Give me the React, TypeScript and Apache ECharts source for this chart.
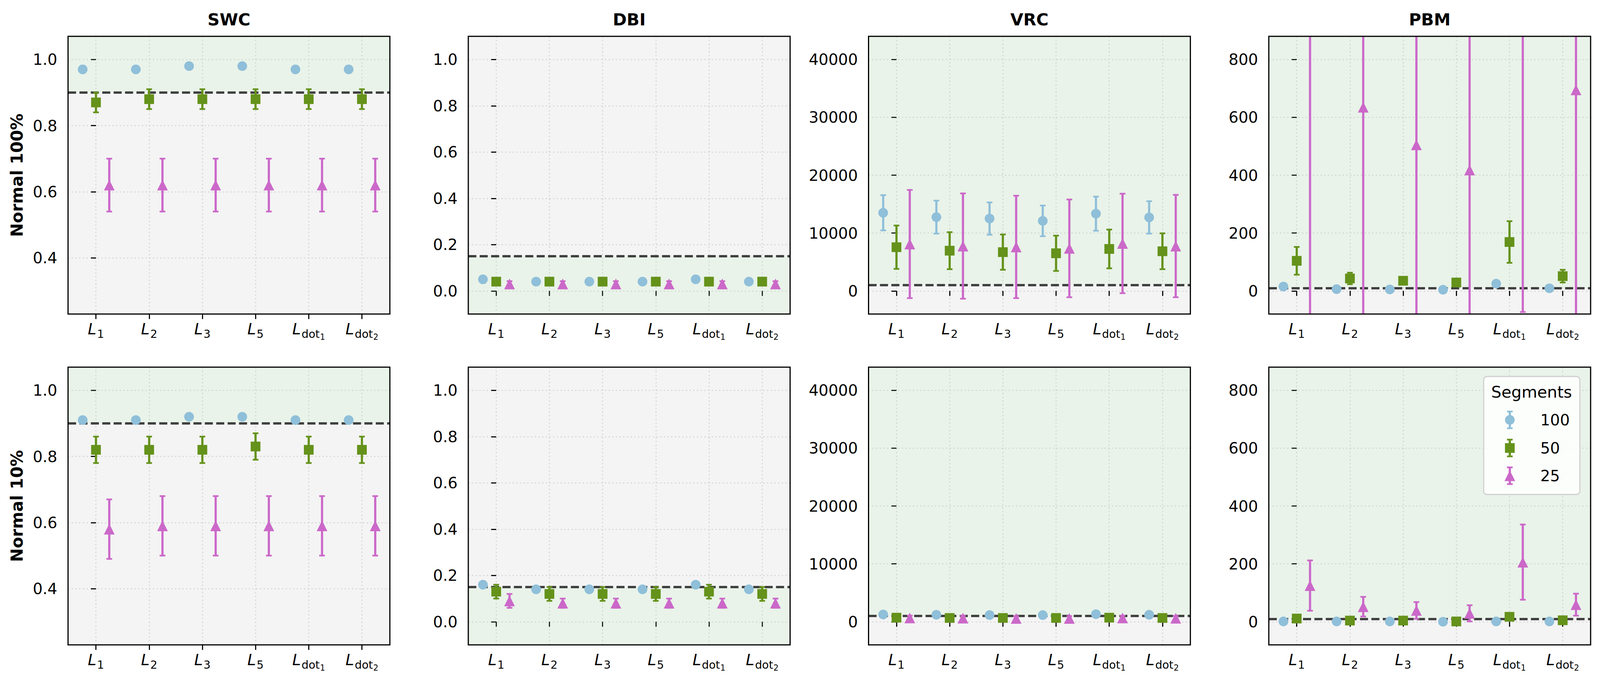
import React, { useEffect, useRef } from "react";
import * as echarts from "echarts";

const FONT = "DejaVu Sans";

// ---------- data ----------
const categories = ["L1", "L2", "L3", "L5", "Ldot1", "Ldot2"];
const metrics = ["SWC", "DBI", "VRC", "PBM"];
const rowLabels = ["Normal 100%", "Normal 10%"];
const segments = ["100", "50", "25"];

const thresholds = [0.9, 0.15, 1000, 10];
const goodAbove = [true, false, true, true];
const yMins = [0.23, -0.1, -4000, -80];
const yMaxs = [1.07, 1.1, 44000, 880];
const swcTicks = [0.4, 0.6, 0.8, 1.0];
const dbiTicks = [0.0, 0.2, 0.4, 0.6, 0.8, 1.0];
const vrcTicks = [0, 10000, 20000, 30000, 40000];
const pbmTicks = [0, 200, 400, 600, 800];
const tickDecimals = [1, 1, 0, 0];

// Normal 100%  (rows: segments 100, 50, 25)
const swcFullMean = [
  [0.97, 0.97, 0.98, 0.98, 0.97, 0.97],
  [0.87, 0.88, 0.88, 0.88, 0.88, 0.88],
  [0.62, 0.62, 0.62, 0.62, 0.62, 0.62],
];
const swcFullStd = [
  [0.005, 0.005, 0.005, 0.005, 0.005, 0.005],
  [0.03, 0.03, 0.03, 0.03, 0.03, 0.03],
  [0.08, 0.08, 0.08, 0.08, 0.08, 0.08],
];
const dbiFullMean = [
  [0.05, 0.04, 0.04, 0.04, 0.05, 0.04],
  [0.04, 0.04, 0.04, 0.04, 0.04, 0.04],
  [0.03, 0.03, 0.03, 0.03, 0.03, 0.03],
];
const dbiFullStd = [
  [0.004, 0.004, 0.004, 0.004, 0.004, 0.004],
  [0.005, 0.005, 0.005, 0.005, 0.005, 0.005],
  [0.012, 0.012, 0.012, 0.012, 0.012, 0.012],
];
const vrcFullMean = [
  [13500, 12750, 12500, 12100, 13350, 12700],
  [7550, 6950, 6700, 6500, 7250, 6850],
  [8100, 7750, 7600, 7350, 8200, 7750],
];
const vrcFullStd = [
  [3050, 2850, 2800, 2650, 2950, 2800],
  [3750, 3200, 3050, 3050, 3350, 3100],
  [9350, 9100, 8850, 8450, 8600, 8850],
];
const pbmFullMean = [
  [15, 6, 5, 4, 25, 9],
  [104, 43, 35, 29, 169, 51],
  [1150, 635, 505, 418, 1050, 695],
];
const pbmFullStd = [
  [3, 2, 2, 2, 4, 2],
  [48, 20, 6, 5, 72, 22],
  [1500, 850, 700, 650, 1123, 900],
];

// Normal 10%
const swcTenMean = [
  [0.91, 0.91, 0.92, 0.92, 0.91, 0.91],
  [0.82, 0.82, 0.82, 0.83, 0.82, 0.82],
  [0.58, 0.59, 0.59, 0.59, 0.59, 0.59],
];
const swcTenStd = [
  [0.005, 0.005, 0.005, 0.005, 0.005, 0.005],
  [0.04, 0.04, 0.04, 0.04, 0.04, 0.04],
  [0.09, 0.09, 0.09, 0.09, 0.09, 0.09],
];
const dbiTenMean = [
  [0.16, 0.14, 0.14, 0.14, 0.16, 0.14],
  [0.13, 0.12, 0.12, 0.12, 0.13, 0.12],
  [0.09, 0.08, 0.08, 0.08, 0.08, 0.08],
];
const dbiTenStd = [
  [0.01, 0.008, 0.008, 0.008, 0.01, 0.008],
  [0.03, 0.03, 0.03, 0.03, 0.03, 0.03],
  [0.03, 0.02, 0.02, 0.02, 0.02, 0.02],
];
const vrcTenMean = [
  [1250, 1200, 1150, 1150, 1300, 1200],
  [700, 650, 650, 650, 700, 650],
  [650, 620, 570, 570, 650, 600],
];
const vrcTenStd = [
  [150, 150, 150, 150, 150, 150],
  [150, 150, 150, 150, 150, 150],
  [400, 400, 400, 400, 400, 400],
];
const pbmTenMean = [
  [1, 1, 1, 0, 1, 1],
  [11, 4, 4, 1, 17, 5],
  [125, 52, 39, 29, 206, 59],
];
const pbmTenStd = [
  [1, 1, 1, 1, 1, 1],
  [3, 2, 2, 1, 4, 2],
  [87, 34, 29, 28, 130, 38],
];

const yTickLists = [swcTicks, dbiTicks, vrcTicks, pbmTicks];
const panelMeans = [
  [swcFullMean, dbiFullMean, vrcFullMean, pbmFullMean],
  [swcTenMean, dbiTenMean, vrcTenMean, pbmTenMean],
];
const panelStds = [
  [swcFullStd, dbiFullStd, vrcFullStd, pbmFullStd],
  [swcTenStd, dbiTenStd, vrcTenStd, pbmTenStd],
];

// ---------- styles / layout (in reference pixels, scaled at runtime) ----------
const REF_W = 4773;
const REF_H = 1764;
const segColors = ["#8fbfd9", "#64921a", "#cb68c9"];
const segSymbols = ["circle", "rect", "triangle"];
const dodge = [-0.25, 0, 0.25];

const GRID_LEFTS = [203, 1397, 2591, 3785];
const GRID_TOPS = [93, 940];
const GRID_W = 960;
const GRID_H = 711;
const X_MIN = -0.525;
const X_MAX = 5.525;

const GRAY_BG = "#f4f4f4";
const GREEN_BAND = "rgba(160,240,160,0.12)";

function xLabel(v: number) {
  const name = categories[Math.round(v)] || "";
  const sub = name.slice(1);
  if (sub.indexOf("dot") === 0) return `{L|L}{d|dot}{ss|${sub.slice(3)}}`;
  return `{L|L}{s|${sub}}`;
}

function makeErrorRender(color: string, k: number) {
  return (params: any, api: any) => {
    const x = api.value(0);
    const lo = api.value(1);
    const hi = api.value(2);
    const pLo = api.coord([x, lo]);
    const pHi = api.coord([x, hi]);
    const cs = params.coordSys;
    const top = cs.y;
    const bottom = cs.y + cs.height;
    const px = pLo[0];
    const yTop = Math.max(pHi[1], top);
    const yBot = Math.min(pLo[1], bottom);
    const children: any[] = [];
    if (yBot > yTop) {
      children.push({ type: "line", shape: { x1: px, y1: yTop, x2: px, y2: yBot }, style: { stroke: color, lineWidth: 6.5 * k } });
    }
    const cap = 8.5 * k;
    if (pHi[1] >= top && pHi[1] <= bottom) {
      children.push({ type: "line", shape: { x1: px - cap, y1: pHi[1], x2: px + cap, y2: pHi[1] }, style: { stroke: color, lineWidth: 5 * k } });
    }
    if (pLo[1] >= top && pLo[1] <= bottom) {
      children.push({ type: "line", shape: { x1: px - cap, y1: pLo[1], x2: px + cap, y2: pLo[1] }, style: { stroke: color, lineWidth: 5 * k } });
    }
    return { type: "group", children };
  };
}

function buildOption(kx: number, ky: number) {
  const k = Math.min(kx, ky);
  const X = (v: number) => v * kx;
  const Y = (v: number) => v * ky;
  const S = (v: number) => v * k;

  const gridLine = { color: "#d4d4d4", width: S(3), type: [S(4), S(7)] };
  const xRich = {
    L: { fontFamily: FONT, fontStyle: "italic", fontSize: S(46), lineHeight: S(56), verticalAlign: "top", color: "#000" },
    s: { fontFamily: FONT, fontSize: S(33), lineHeight: S(34), padding: [S(22), 0, 0, S(2)], verticalAlign: "top", color: "#000" },
    d: { fontFamily: FONT, fontSize: S(33), lineHeight: S(34), padding: [S(22), 0, 0, S(2)], verticalAlign: "top", color: "#000" },
    ss: { fontFamily: FONT, fontSize: S(24), lineHeight: S(24), padding: [S(35), 0, 0, S(1)], verticalAlign: "top", color: "#000" },
  };
  const symbolSizes: any[] = [S(29), S(29), [S(32), S(32)]];

  const grid: any[] = [];
  const xAxis: any[] = [];
  const yAxis: any[] = [];
  const series: any[] = [];
  const elements: any[] = [];
  const xTickValues = categories.map((_, i) => i);

  rowLabels.forEach((rowLabel, r) => {
    metrics.forEach((metric, c) => {
      const idx = r * metrics.length + c;
      const left = X(GRID_LEFTS[c]);
      const top = Y(GRID_TOPS[r]);
      const w = X(GRID_W);
      const h = Y(GRID_H);
      grid.push({ left, top, width: w, height: h, show: true, backgroundColor: GRAY_BG, borderWidth: 0 });
      xAxis.push({
        type: "value",
        gridIndex: idx,
        min: X_MIN,
        max: X_MAX,
        axisLine: { show: false },
        axisTick: { show: true, length: S(15), lineStyle: { color: "#000", width: S(3.3) }, customValues: xTickValues },
        axisLabel: { show: true, customValues: xTickValues, margin: S(22), formatter: xLabel, rich: xRich },
        splitLine: { show: true, lineStyle: gridLine },
      });
      const dec = tickDecimals[c];
      yAxis.push({
        type: "value",
        gridIndex: idx,
        min: yMins[c],
        max: yMaxs[c],
        axisLine: { show: false },
        axisTick: { show: true, length: S(15), lineStyle: { color: "#000", width: S(3.3) }, customValues: yTickLists[c] },
        axisLabel: {
          show: true,
          customValues: yTickLists[c],
          margin: S(32),
          fontSize: S(46),
          fontFamily: FONT,
          color: "#000",
          formatter: (v: number) => Number(v).toFixed(dec),
        },
        splitLine: { show: true, lineStyle: gridLine },
      });

      const means = panelMeans[r][c];
      const stds = panelStds[r][c];
      segments.forEach((seg, s) => {
        const errData = means[s].map((m, i) => [i + dodge[s], m - stds[s][i], m + stds[s][i]]);
        const errSeries: any = {
          type: "custom",
          name: seg,
          xAxisIndex: idx,
          yAxisIndex: idx,
          z: 3,
          silent: true,
          renderItem: makeErrorRender(segColors[s], k),
          data: errData,
        };
        if (s === 0) {
          const thr = thresholds[c];
          errSeries.markArea = {
            silent: true,
            z: 1,
            itemStyle: { color: GREEN_BAND, borderWidth: 0 },
            label: { show: false },
            data: [goodAbove[c] ? [{ yAxis: thr }, { yAxis: yMaxs[c] }] : [{ yAxis: yMins[c] }, { yAxis: thr }]],
          };
          errSeries.markLine = {
            silent: true,
            z: 2,
            symbol: "none",
            label: { show: false },
            lineStyle: { color: "#404040", width: S(7), type: [S(24), S(10)] },
            data: [{ yAxis: thr }],
          };
        }
        series.push(errSeries);
        series.push({
          type: "scatter",
          name: seg,
          xAxisIndex: idx,
          yAxisIndex: idx,
          z: 4,
          silent: true,
          symbol: segSymbols[s],
          symbolSize: symbolSizes[s],
          itemStyle: { color: segColors[s], opacity: 1 },
          data: means[s].map((m, i) => [i + dodge[s], m]),
        });
      });

      // frame
      elements.push({
        type: "rect",
        z: 50,
        silent: true,
        shape: { x: left, y: top, width: w, height: h },
        style: { fill: "none", stroke: "#000", lineWidth: S(3.5) },
      });
      if (r === 0) {
        elements.push({
          type: "text",
          z: 50,
          x: left + w / 2,
          y: Y(50),
          style: { text: metric, fontFamily: FONT, fontWeight: "bold", fontSize: S(50), fill: "#000", align: "center", verticalAlign: "middle" },
        });
      }
      if (c === 0) {
        elements.push({
          type: "text",
          z: 50,
          x: X(51),
          y: top + h / 2,
          rotation: Math.PI / 2,
          style: { text: rowLabel, fontFamily: FONT, fontWeight: "bold", fontSize: S(49), fill: "#000", align: "center", verticalAlign: "middle" },
        });
      }
    });
  });

  // legend (inside last panel)
  const lgW = 287;
  const lgH = 302;
  const lgX = GRID_LEFTS[3] + GRID_W - 32 - lgW;
  const lgTop = GRID_TOPS[1] + 24;
  elements.push({
    type: "rect",
    z: 60,
    shape: { x: X(lgX), y: Y(lgTop), width: X(lgW), height: Y(lgH), r: S(10) },
    style: { fill: "rgba(255,255,255,0.85)", stroke: "#cfcfcf", lineWidth: S(3.3) },
  });
  elements.push({
    type: "text",
    z: 61,
    x: X(lgX + 143),
    y: Y(lgTop + 40),
    style: { text: "Segments", fontFamily: FONT, fontSize: S(48), fill: "#000", align: "center", verticalAlign: "middle" },
  });
  const rowOffsets = [111, 183, 254];
  segments.forEach((seg, s) => {
    const cx = X(lgX + 78);
    const cy = Y(lgTop + rowOffsets[s]);
    const col = segColors[s];
    const e = S(25);
    const cap = S(8.5);
    elements.push({ type: "line", z: 61, shape: { x1: cx, y1: cy - e, x2: cx, y2: cy + e }, style: { stroke: col, lineWidth: S(6.5) } });
    elements.push({ type: "line", z: 61, shape: { x1: cx - cap, y1: cy - e, x2: cx + cap, y2: cy - e }, style: { stroke: col, lineWidth: S(5) } });
    elements.push({ type: "line", z: 61, shape: { x1: cx - cap, y1: cy + e, x2: cx + cap, y2: cy + e }, style: { stroke: col, lineWidth: S(5) } });
    if (segSymbols[s] === "circle") {
      elements.push({ type: "circle", z: 62, shape: { cx, cy, r: S(14.5) }, style: { fill: col } });
    } else if (segSymbols[s] === "rect") {
      elements.push({ type: "rect", z: 62, shape: { x: cx - S(14.5), y: cy - S(14.5), width: S(29), height: S(29) }, style: { fill: col } });
    } else {
      const t = S(16);
      elements.push({
        type: "polygon",
        z: 62,
        shape: { points: [[cx, cy - t], [cx - t, cy + t], [cx + t, cy + t]] },
        style: { fill: col },
      });
    }
    elements.push({
      type: "text",
      z: 61,
      x: X(lgX + 169),
      y: cy,
      style: { text: seg, fontFamily: FONT, fontSize: S(46), fill: "#000", align: "left", verticalAlign: "middle" },
    });
  });

  return {
    animation: false,
    backgroundColor: "#ffffff",
    textStyle: { fontFamily: FONT },
    grid,
    xAxis,
    yAxis,
    series,
    graphic: { elements },
  };
}

export default function App() {
  const ref = useRef<HTMLDivElement>(null);
  useEffect(() => {
    document.body.style.margin = "0";
    document.body.style.overflow = "hidden";
    const el = ref.current as HTMLDivElement;
    const w = el.clientWidth || window.innerWidth;
    const h = el.clientHeight || window.innerHeight;
    const chart = echarts.init(el, null, { renderer: "svg", width: w, height: h });
    chart.setOption(buildOption(w / REF_W, h / REF_H) as any);
    return () => chart.dispose();
  }, []);
  return <div ref={ref} style={{ width: "100vw", height: "100vh", overflow: "hidden" }} />;
}
